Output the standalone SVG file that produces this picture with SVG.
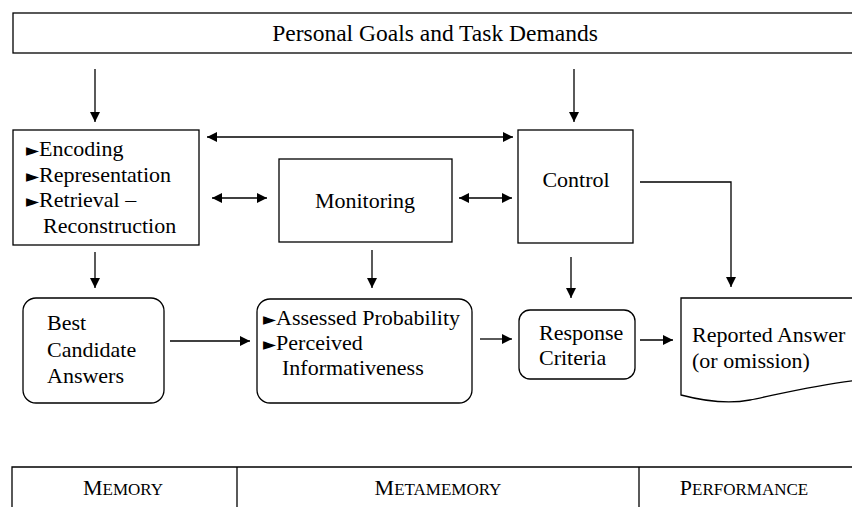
<svg xmlns="http://www.w3.org/2000/svg" width="852" height="507" viewBox="0 0 852 507">
<defs>
<marker id="ah" markerWidth="10" markerHeight="10" viewBox="0 0 10 10" refX="10" refY="5" orient="auto-start-reverse" markerUnits="userSpaceOnUse">
<path d="M0,0 L10,5 L0,10 Z" fill="#000"/>
</marker>
<style>
.box{fill:#fff;stroke:#000;stroke-width:1.3}
.ln{fill:none;stroke:#000;stroke-width:1.3}
text{font-family:'Liberation Serif','Times New Roman','DejaVu Serif',serif;font-size:22px;fill:#000}
.b{font-family:'DejaVu Sans',sans-serif;font-size:17px}
.sc{font-size:17px}
</style>
</defs>
<rect width="852" height="507" fill="#fff"/>
<g id="goals">
<rect class="box" x="13" y="13" width="850" height="40"/>
<text font-family="Liberation Serif, serif" x="435" y="41" text-anchor="middle" style="font-size:23.5px">Personal Goals and Task Demands</text>
</g>
<g id="memory-processes" font-family="Liberation Serif, serif">
<rect class="box" x="13" y="130" width="186" height="115"/>
<text x="26" y="156"><tspan class="b">►</tspan>Encoding</text>
<text x="26" y="182"><tspan class="b">►</tspan>Representation</text>
<text x="26" y="207"><tspan class="b">►</tspan>Retrieval –</text>
<text x="43" y="233">Reconstruction</text>
</g>
<g id="monitoring">
<rect class="box" x="279" y="159" width="173" height="83"/>
<text x="365" y="208" text-anchor="middle">Monitoring</text>
</g>
<g id="control">
<rect class="box" x="518" y="130" width="115" height="113"/>
<text x="576" y="187" text-anchor="middle">Control</text>
</g>
<g id="best-candidate">
<rect class="box" x="23" y="298" width="141" height="105" rx="13"/>
<text x="47" y="330">Best</text>
<text x="47" y="357">Candidate</text>
<text x="47" y="383">Answers</text>
</g>
<g id="assessment">
<rect class="box" x="257" y="299" width="215" height="104" rx="13"/>
<text x="263" y="325"><tspan class="b">►</tspan>Assessed Probability</text>
<text x="263" y="350"><tspan class="b">►</tspan>Perceived</text>
<text x="282" y="375">Informativeness</text>
</g>
<g id="response-criteria">
<rect class="box" x="519" y="310" width="116" height="69" rx="11"/>
<text x="539" y="340">Response</text>
<text x="539" y="365">Criteria</text>
</g>
<g id="reported-answer">
<path class="box" d="M681,298 L860,298 L860,380 C820,384 780,394 750,400 C725,405 700,400 681,395 Z"/>
<text x="692" y="342">Reported Answer</text>
<text x="692" y="368">(or omission)</text>
</g>
<g id="connectors">
<line class="ln" x1="95" y1="69" x2="95" y2="122" marker-end="url(#ah)"/>
<line class="ln" x1="574" y1="69" x2="574" y2="122" marker-end="url(#ah)"/>
<line class="ln" x1="207" y1="137" x2="513" y2="137" marker-start="url(#ah)" marker-end="url(#ah)"/>
<line class="ln" x1="212" y1="198" x2="267" y2="198" marker-start="url(#ah)" marker-end="url(#ah)"/>
<line class="ln" x1="459" y1="198" x2="512" y2="198" marker-start="url(#ah)" marker-end="url(#ah)"/>
<polyline class="ln" points="640,182 731,182 731,287" marker-end="url(#ah)"/>
<line class="ln" x1="95" y1="252" x2="95" y2="288" marker-end="url(#ah)"/>
<line class="ln" x1="372" y1="250" x2="372" y2="288" marker-end="url(#ah)"/>
<line class="ln" x1="571" y1="257" x2="571" y2="298" marker-end="url(#ah)"/>
<line class="ln" x1="170" y1="341" x2="250" y2="341" marker-end="url(#ah)"/>
<line class="ln" x1="480" y1="339" x2="512" y2="339" marker-end="url(#ah)"/>
<line class="ln" x1="640" y1="340" x2="673" y2="340" marker-end="url(#ah)"/>
</g>
<g id="legend">
<polyline class="ln" points="12,507 12,467 852,467"/>
<line class="ln" x1="237" y1="467" x2="237" y2="507"/>
<line class="ln" x1="639" y1="467" x2="639" y2="507"/>
<text x="123" y="495" text-anchor="middle">M<tspan class="sc">EMORY</tspan></text>
<text x="438" y="495" text-anchor="middle">M<tspan class="sc">ETAMEMORY</tspan></text>
<text x="744" y="495" text-anchor="middle">P<tspan class="sc">ERFORMANCE</tspan></text>
</g>
</svg>
